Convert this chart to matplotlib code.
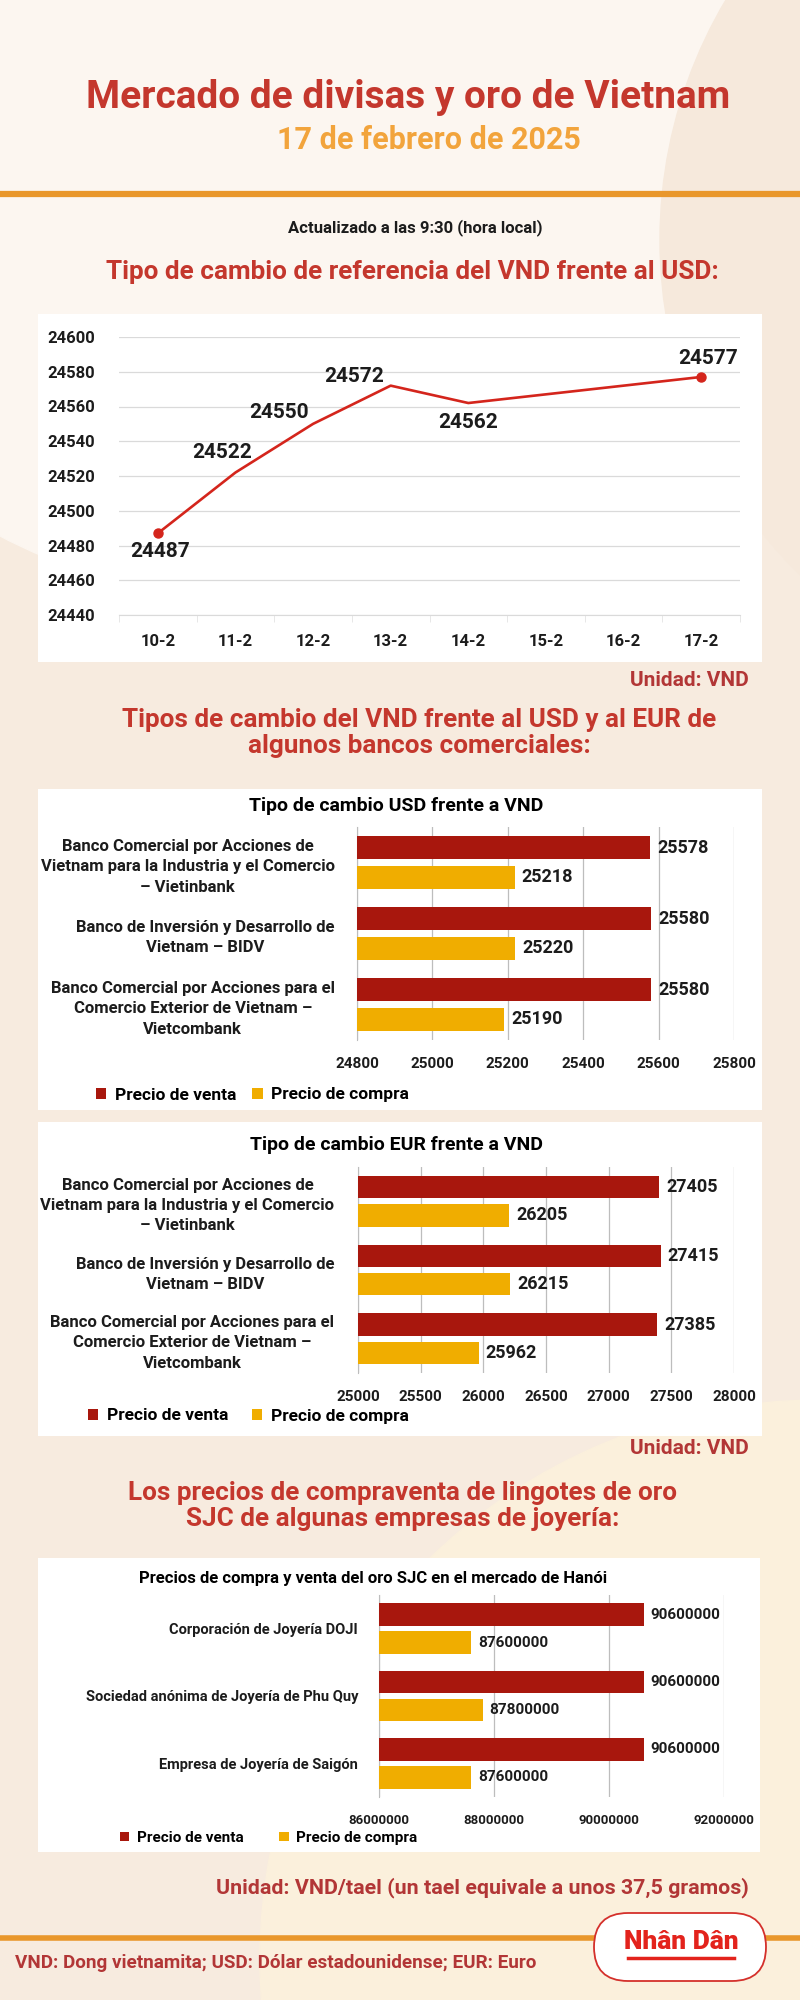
import matplotlib
matplotlib.use('Agg')
import matplotlib.pyplot as plt
from matplotlib.patches import Rectangle, FancyBboxPatch, Circle

# ---- data -------------------------------------------------------------
dates = ['10-2', '11-2', '12-2', '13-2', '14-2', '15-2', '16-2', '17-2']
ref_rate = [24487, 24522, 24550, 24572, 24562, None, None, 24577]
ref_ticks = [24440, 24460, 24480, 24500, 24520, 24540, 24560, 24580, 24600]

banks = ['Banco Comercial por Acciones de\nVietnam para la Industria y el Comercio\n– Vietinbank',
         'Banco de Inversión y Desarrollo de\nVietnam – BIDV',
         'Banco Comercial por Acciones para el\nComercio Exterior de Vietnam –\nVietcombank']
usd_sell = [25578, 25580, 25580]
usd_buy = [25218, 25220, 25190]
usd_ticks = [24800, 25000, 25200, 25400, 25600, 25800]
eur_sell = [27405, 27415, 27385]
eur_buy = [26205, 26215, 25962]
eur_ticks = [25000, 25500, 26000, 26500, 27000, 27500, 28000]

gold_firms = ['Corporación de Joyería DOJI',
              'Sociedad anónima de Joyería de Phu Quy',
              'Empresa de Joyería de Saigón']
gold_sell = [90600000, 90600000, 90600000]
gold_buy = [87600000, 87800000, 87600000]
gold_ticks = [86000000, 88000000, 90000000, 92000000]

series_names = ['Precio de venta', 'Precio de compra']

# ---- style ------------------------------------------------------------
RED_BAR = '#A8170D'
YELLOW_BAR = '#F0AD00'
TITLE_RED = '#C4372D'
DARK_RED = '#B23636'
ORANGE = '#E9972B'
DATE_ORANGE = '#F2A43C'
INK = '#1C1C1C'
GRID = '#BDBDBD'

plt.rcParams['font.family'] = ['Roboto', 'DejaVu Sans']

W, H = 800, 2000
fig = plt.figure(figsize=(8, 20), dpi=100)

# background layer in pixel coordinates
bg = fig.add_axes([0, 0, 1, 1])
bg.set_xlim(0, W)
bg.set_ylim(H, 0)
bg.axis('off')
bg.add_patch(Rectangle((0, 0), W, H, color='#F7EBDF', zorder=0))
bg.add_patch(Circle((260, 40), 560, color='#FCF6F0', zorder=0.1))
bg.add_patch(Circle((1130, 240), 470, color='#F6E9DC', zorder=0.2))
bg.add_patch(Circle((820, 1960), 560, color='#FBF0DC', zorder=0.1))


def px_axes(l, t, r, b):
    ax = fig.add_axes([l / W, 1 - b / H, (r - l) / W, (b - t) / H])
    ax.set_facecolor('none')
    return ax


def panel(x0, y0, x1, y1):
    bg.add_patch(Rectangle((x0, y0), x1 - x0, y1 - y0, facecolor='white',
                           edgecolor='none', zorder=1))


# ---- header -----------------------------------------------------------
bg.text(408, 97, 'Mercado de divisas y oro de Vietnam', color=TITLE_RED,
        fontsize=28, weight='bold', ha='center', va='center', zorder=3)
bg.text(429, 140, '17 de febrero de 2025', color=DATE_ORANGE,
        fontsize=22, weight='bold', ha='center', va='center', zorder=3)
bg.plot([0, W], [194, 194], color=ORANGE, lw=4.5, zorder=2)
bg.text(415, 228, 'Actualizado a las 9:30 (hora local)', color=INK,
        fontsize=12, weight='bold', ha='center', va='center', zorder=3)

# ---- reference rate line chart ---------------------------------------
bg.text(412, 272, 'Tipo de cambio de referencia del VND frente al USD:',
        color=TITLE_RED, fontsize=18.8, weight='bold', ha='center', va='center', zorder=3)
panel(38, 314, 762, 662)

ax1 = px_axes(119, 337, 740, 615)
xi = [i for i, v in enumerate(ref_rate) if v is not None]
yv = [v for v in ref_rate if v is not None]
ax1.plot(xi, yv, color='#D4251C', lw=1.9, marker='o', ms=6.5,
         markevery=[0, len(xi) - 1], zorder=3, clip_on=False)
ax1.set_xlim(-0.5, 7.5)
ax1.set_ylim(ref_ticks[0], ref_ticks[-1])
ax1.set_yticks(ref_ticks)
ax1.set_yticklabels([str(t) for t in ref_ticks])
ax1.set_xticks(range(len(dates)))
ax1.set_xticklabels(dates)
ax1.set_xticks([i - 0.5 for i in range(len(dates) + 1)], minor=True)
ax1.grid(axis='y', color='#DADADA', lw=0.9)
for s in ['top', 'right', 'left']:
    ax1.spines[s].set_visible(False)
ax1.spines['bottom'].set_color('#DADADA')
ax1.tick_params(axis='y', length=0, pad=17, labelsize=12, labelcolor=INK)
ax1.tick_params(axis='x', which='major', length=0, pad=14, labelsize=12, labelcolor=INK)
ax1.tick_params(axis='x', which='minor', length=5, color='#E3E3E3')
for lbl in ax1.get_xticklabels() + ax1.get_yticklabels():
    lbl.set_fontweight('bold')
label_offsets = [(2, -18), (-13, 20), (-34, 11), (-37, 9), (0, -19), (7, 18)]
for (x, y), (dx, dy) in zip(zip(xi, yv), label_offsets):
    ax1.annotate(str(y), (x, y), xytext=(dx, dy), textcoords='offset pixels',
                 ha='center', va='center', fontsize=15, weight='bold', color=INK)
bg.text(749, 681, 'Unidad: VND', color=DARK_RED, fontsize=15, weight='bold',
        ha='right', va='center', zorder=3)

# ---- bank charts -------------------------------------------------------
bg.text(419, 733, 'Tipos de cambio del VND frente al USD y al EUR de\nalgunos bancos comerciales:',
        color=TITLE_RED, fontsize=18.8, weight='bold', ha='center', va='center',
        linespacing=1.15, zorder=3)


def bar_chart(ax, labels, sell, buy, ticks, lab_size, val_size, tick_size, lab_pad,
              off=0.205, h=0.325, spacing=1.45):
    y = list(range(len(labels)))
    b1 = ax.barh([i - off for i in y], sell, height=h, color=RED_BAR, zorder=3)
    b2 = ax.barh([i + off for i in y], buy, height=h, color=YELLOW_BAR, zorder=3)
    for i in y:
        ax.annotate(str(sell[i]), (sell[i], i - off), xytext=(7, 0), textcoords='offset pixels',
                    ha='left', va='center', fontsize=val_size, weight='bold', color=INK)
        ax.annotate(str(buy[i]), (buy[i], i + off), xytext=(7, 0), textcoords='offset pixels',
                    ha='left', va='center', fontsize=val_size, weight='bold', color=INK)
    ax.set_xlim(ticks[0], ticks[-1])
    ax.set_ylim(len(labels) - 0.5, -0.5)
    ax.set_xticks(ticks)
    ax.set_xticklabels([str(t) for t in ticks])
    ax.set_yticks(y)
    ax.set_yticklabels(labels)
    ax.grid(axis='x', color=GRID, lw=0.9, zorder=0)
    ax.set_axisbelow(True)
    for s in ['top', 'right', 'bottom']:
        ax.spines[s].set_visible(False)
    ax.spines['left'].set_color(GRID)
    ax.tick_params(axis='x', length=0, pad=12, labelsize=tick_size, labelcolor=INK)
    ax.tick_params(axis='y', length=0, pad=lab_pad, labelsize=lab_size, labelcolor=INK)
    for lbl in ax.get_xticklabels() + ax.get_yticklabels():
        lbl.set_fontweight('bold')
    for lbl in ax.get_yticklabels():
        lbl.set_multialignment('center')
        lbl.set_linespacing(spacing)
    return b1, b2


def legend(ax, handles, x, y, size, gap):
    ax.legend(handles, series_names, loc='center left', bbox_to_anchor=(x, y),
              bbox_transform=bg.transData, frameon=False, ncol=2,
              handlelength=0.6, handleheight=0.6, handletextpad=0.5,
              columnspacing=gap, borderpad=0, borderaxespad=0,
              prop={'weight': 'bold', 'size': size})


# USD
panel(38, 789, 762, 1110)
bg.text(396, 806, 'Tipo de cambio USD frente a VND', color='black', fontsize=14,
        weight='bold', ha='center', va='center', zorder=3)
ax2 = px_axes(357, 827, 734, 1040)
h2 = bar_chart(ax2, banks, usd_sell, usd_buy, usd_ticks, 12, 13, 11, 16)
legend(ax2, h2, 96, 1095, 12.5, 0.9)

# EUR
panel(38, 1122, 762, 1436)
bg.text(396, 1145, 'Tipo de cambio EUR frente a VND', color='black', fontsize=14,
        weight='bold', ha='center', va='center', zorder=3)
ax3 = px_axes(358, 1167, 734, 1373)
h3 = bar_chart(ax3, banks, eur_sell, eur_buy, eur_ticks, 12, 13, 11, 17)
legend(ax3, h3, 88, 1416, 12.5, 1.35)
bg.text(749, 1448, 'Unidad: VND', color=DARK_RED, fontsize=15, weight='bold',
        ha='right', va='center', zorder=3)

# ---- gold chart --------------------------------------------------------
bg.text(403, 1506, 'Los precios de compraventa de lingotes de oro\nSJC de algunas empresas de joyería:',
        color=TITLE_RED, fontsize=18.8, weight='bold', ha='center', va='center',
        linespacing=1.15, zorder=3)
panel(38, 1558, 760, 1852)
bg.text(373, 1578, 'Precios de compra y venta del oro SJC en el mercado de Hanói', color='black',
        fontsize=12, weight='bold', ha='center', va='center', zorder=3)
ax4 = px_axes(379, 1595, 724, 1797)
h4 = bar_chart(ax4, gold_firms, gold_sell, gold_buy, gold_ticks, 10.5, 11, 9.5, 15,
               off=0.208, h=0.34)
legend(ax4, h4, 120, 1838, 11, 2.35)

# ---- footer -----------------------------------------------------------
bg.text(749, 1888, 'Unidad: VND/tael (un tael equivale a unos 37,5 gramos)', color=DARK_RED,
        fontsize=15.4, weight='bold', ha='right', va='center', zorder=3)
bg.plot([0, W], [1938, 1938], color=ORANGE, lw=4, zorder=2)
bg.text(15, 1963, 'VND: Dong vietnamita; USD: Dólar estadounidense; EUR: Euro', color=DARK_RED,
        fontsize=13.6, weight='bold', ha='left', va='center', zorder=3)
bg.add_patch(FancyBboxPatch((594, 1913), 172, 68, boxstyle='round,pad=0,rounding_size=34',
                            facecolor='white', edgecolor='#D4302B', lw=1.3, zorder=4))
bg.text(681, 1942, 'Nhân Dân', color='#E3231C', fontsize=19, weight='heavy',
        ha='center', va='center', zorder=5)
bg.plot([628, 734], [1958, 1958], color='#E3231C', lw=2.5, zorder=5)

fig.savefig('out.png', dpi=100)
